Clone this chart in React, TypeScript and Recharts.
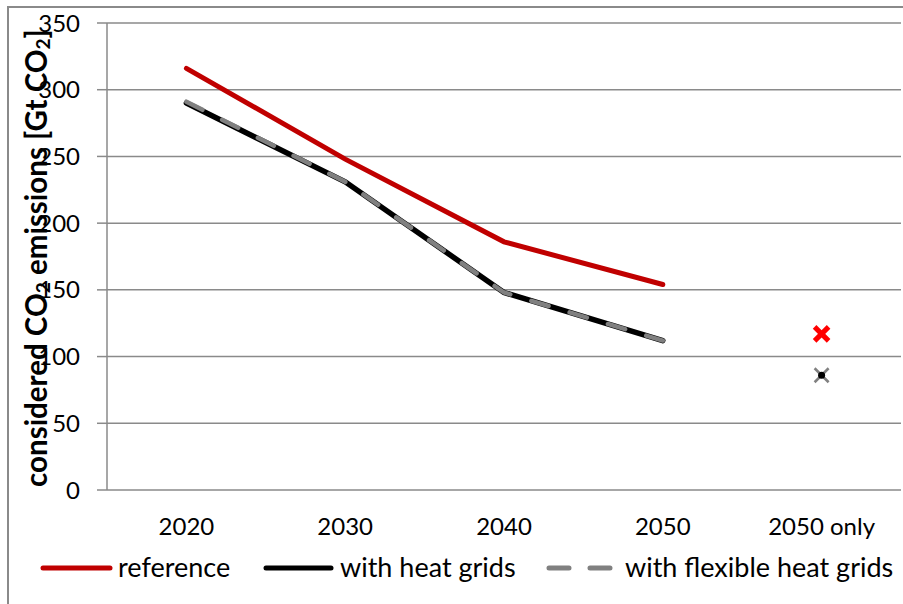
import React from 'react';
import { LineChart, Line, XAxis, YAxis, CartesianGrid } from 'recharts';

const categories = ['2020', '2030', '2040', '2050', '2050 only'];
const reference = [316, 248, 186, 154, null];
const heatGrids = [290, 231, 148, 112, null];
const flexibleHeatGrids = [291, 231, 148, 112, null];
const referenceOnly = [null, null, null, null, 117];
const heatGridsOnly = [null, null, null, null, 86];
const flexibleOnly = [null, null, null, null, 86];
const yTicks = [0, 50, 100, 150, 200, 250, 300, 350];
const bandEdges = [0, 1, 2, 3, 4, 5];

const data = categories.map((c, i) => ({
  cat: c,
  reference: reference[i],
  heat: heatGrids[i],
  flex: flexibleHeatGrids[i],
  refOnly: referenceOnly[i],
  heatOnly: heatGridsOnly[i],
  flexOnly: flexibleOnly[i],
}));

const FONT = "Lato, 'Open Sans', sans-serif";
const GRAY = '#8a8a8a';
const RED = '#c00000';
const FLEX = '#808080';

const RedX = (props: any) => {
  const { cx, cy, index } = props;
  if (cx == null || cy == null) return <g key={'rx' + index} />;
  const s = 7;
  return (
    <g key={'rx' + index}>
      <line x1={cx - s} y1={cy - s} x2={cx + s} y2={cy + s} stroke="#ff0000" strokeWidth={5} />
      <line x1={cx - s} y1={cy + s} x2={cx + s} y2={cy - s} stroke="#ff0000" strokeWidth={5} />
    </g>
  );
};

const BlackDot = (props: any) => {
  const { cx, cy, index } = props;
  if (cx == null || cy == null) return <g key={'bd' + index} />;
  return <circle key={'bd' + index} cx={cx} cy={cy} r={3.5} fill="#000" />;
};

const GrayX = (props: any) => {
  const { cx, cy, index } = props;
  if (cx == null || cy == null) return <g key={'gx' + index} />;
  const s = 7;
  return (
    <g key={'gx' + index}>
      <line x1={cx - s} y1={cy - s} x2={cx + s} y2={cy + s} stroke={FLEX} strokeWidth={2.5} />
      <line x1={cx - s} y1={cy + s} x2={cx + s} y2={cy - s} stroke={FLEX} strokeWidth={2.5} />
    </g>
  );
};

export default function App() {
  return (
    <div style={{ position: 'relative', width: 903, height: 604, overflow: 'hidden', background: '#fff' }}>
      <style>{`html,body{margin:0;padding:0;overflow:hidden;background:#fff}`}</style>
      <div
        style={{
          position: 'absolute',
          left: 7,
          top: 6,
          width: 900,
          height: 600,
          borderTop: `2px solid ${GRAY}`,
          borderLeft: `2px solid ${GRAY}`,
          boxSizing: 'border-box',
        }}
      />
      <div style={{ position: 'absolute', left: 9, top: 8 }}>
        <LineChart width={894} height={590} data={data} margin={{ top: 15, right: 2, bottom: 48, left: 0 }}>
          <CartesianGrid vertical={false} stroke={GRAY} strokeWidth={1.5} />
          <XAxis
            xAxisId="edges"
            type="number"
            domain={[0, 5]}
            ticks={bandEdges}
            tick={false}
            tickSize={9}
            height={0}
            axisLine={{ stroke: GRAY, strokeWidth: 1.5 }}
            tickLine={{ stroke: GRAY, strokeWidth: 1.5 }}
          />
          <XAxis
            dataKey="cat"
            padding={{ left: 79.4, right: 79.4 }}
            axisLine={false}
            tickLine={false}
            tickSize={0}
            tickMargin={28}
            height={60}
            interval={0}
            tick={{ fill: '#000', fontSize: 24, fontFamily: FONT }}
          />
          <YAxis
            width={98}
            domain={[0, 350]}
            ticks={yTicks}
            tickSize={10}
            tickMargin={17}
            axisLine={{ stroke: GRAY, strokeWidth: 1.5 }}
            tickLine={{ stroke: GRAY, strokeWidth: 1.5 }}
            tick={{ fill: '#000', fontSize: 24, fontFamily: FONT }}
          />
          <Line dataKey="reference" stroke={RED} strokeWidth={5} strokeLinecap="round" dot={false} isAnimationActive={false} />
          <Line dataKey="heat" stroke="#000" strokeWidth={5.5} strokeLinecap="round" dot={false} isAnimationActive={false} />
          <Line dataKey="flex" stroke={FLEX} strokeWidth={4.5} strokeLinecap="round" strokeDasharray="18 22" dot={false} isAnimationActive={false} />
          <Line dataKey="refOnly" stroke="none" dot={RedX} activeDot={false} isAnimationActive={false} />
          <Line dataKey="flexOnly" stroke="none" dot={GrayX} activeDot={false} isAnimationActive={false} />
          <Line dataKey="heatOnly" stroke="none" dot={BlackDot} activeDot={false} isAnimationActive={false} />
        </LineChart>
      </div>
      <svg width={903} height={604} style={{ position: 'absolute', left: 0, top: 0, pointerEvents: 'none' }}>
        <text
          x={35}
          y={258}
          transform="rotate(-90 35 258)"
          textAnchor="middle"
          dominantBaseline="central"
          fontFamily={FONT}
          fontWeight={700}
          fontSize={29.5}
          fill="#000"
        >
          considered CO<tspan fontSize={19} dy={7}>2</tspan>
          <tspan dy={-7}> emissions [Gt CO</tspan>
          <tspan fontSize={19} dy={7}>2</tspan>
          <tspan dy={-7}>]</tspan>
        </text>
        <g fontFamily={FONT} fontSize={27} fill="#000">
          <line x1={43} y1={568} x2={110} y2={568} stroke={RED} strokeWidth={5} strokeLinecap="round" />
          <text x={118} y={577}>reference</text>
          <line x1={266} y1={568} x2={331} y2={568} stroke="#000" strokeWidth={5} strokeLinecap="round" />
          <text x={340} y={577}>with heat grids</text>
          <line x1={549} y1={568} x2={610} y2={568} stroke={FLEX} strokeWidth={5} strokeLinecap="round" strokeDasharray="20 21" />
          <text x={625} y={577}>with flexible heat grids</text>
        </g>
      </svg>
    </div>
  );
}
